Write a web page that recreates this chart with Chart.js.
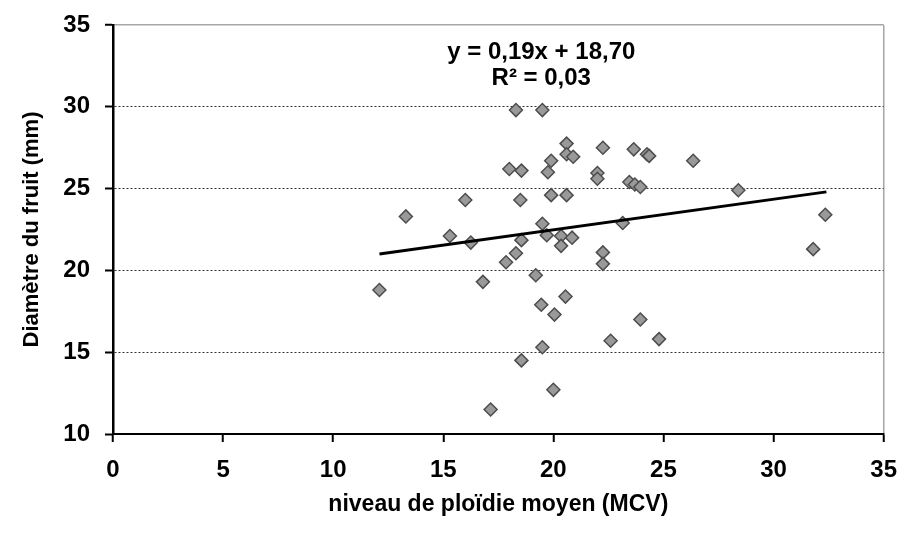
<!DOCTYPE html>
<html lang="fr">
<head>
<meta charset="utf-8">
<title>Diamètre du fruit vs niveau de ploïdie</title>
<script src="https://cdn.jsdelivr.net/npm/chart.js@4"></script>
<style>
    html, body { margin: 0; padding: 0; background: #fff; }
    #wrap { width: 911px; height: 533px; }
</style>
</head>
<body>
<div id="wrap"><canvas id="grafico"></canvas></div>
<script>
// valeurs
const ploidie = [12.1, 13.3, 15.3, 16.0, 16.25, 16.8, 17.15, 17.85, 18.0, 18.3, 18.3, 18.55, 18.5, 18.55, 18.55,
    19.2, 19.45, 19.5, 19.5, 19.5, 19.7, 19.75, 19.9, 19.9, 20.0, 20.05, 20.35, 20.35, 20.55, 20.6, 20.6, 20.9,
    20.6, 20.85, 22.0, 22.0, 22.25, 22.25, 22.25, 22.6, 23.15, 23.45, 23.65, 23.7, 23.95, 23.95, 24.25, 24.35,
    24.8, 26.35, 28.4, 31.8, 32.35];
const diametre = [18.8, 23.3, 22.1, 24.3, 21.7, 19.3, 11.5, 20.5, 26.2, 29.8, 21.05, 26.1, 24.3, 21.85, 14.5,
    19.7, 17.9, 29.8, 22.85, 15.3, 22.15, 26.0, 26.7, 24.6, 12.7, 17.3, 22.1, 21.5, 18.4, 27.75, 27.1, 26.95,
    24.6, 22.0, 25.95, 25.6, 27.5, 21.1, 20.4, 15.7, 22.9, 25.4, 27.4, 25.25, 25.1, 17.0, 27.1, 27.0,
    15.8, 26.7, 24.9, 21.3, 23.4];

// droite de tendance (extrémités lues)
const tendanceX = [12.1, 32.4];
const tendanceY = [21.0, 24.8];

const xTicks = [0, 5, 10, 15, 20, 25, 30, 35];
const yTicks = [10, 15, 20, 25, 30, 35];

const equation = ["y = 0,19x + 18,70", "R² = 0,03"];
const equationX = 19.45;
const equationY = [33.3, 31.75];

let chart;

document.addEventListener("DOMContentLoaded", function () {
    disegna();
});

// texte de l'équation, placé avec les échelles
const equationPlugin = {
    id: "equation",
    afterDatasetsDraw(c) {
        const ctx = c.ctx;
        const px = c.scales.x.getPixelForValue(equationX);
        ctx.save();
        ctx.font = "bold 24px 'Liberation Sans', Arial, sans-serif";
        ctx.fillStyle = "#000";
        ctx.textAlign = "center";
        ctx.textBaseline = "middle";
        for (let i = 0; i < equation.length; i++) {
            ctx.fillText(equation[i], px, c.scales.y.getPixelForValue(equationY[i]));
        }
        ctx.restore();
    }
};

function disegna() {
    Chart.defaults.font.family = "'Liberation Sans', Arial, sans-serif";
    Chart.defaults.font.weight = "bold";
    Chart.defaults.color = "#000";

    const punti = ploidie.map((x, i) => ({ x: x, y: diametre[i] }));
    const tendance = tendanceX.map((x, i) => ({ x: x, y: tendanceY[i] }));

    const ctx = document.getElementById("grafico").getContext("2d");
    if (chart) chart.destroy();

    chart = new Chart(ctx, {
        type: "scatter",
        data: {
            datasets: [{
                label: "tendance",
                data: tendance,
                showLine: true,
                borderColor: "#000",
                borderWidth: 3,
                pointRadius: 0,
                order: 0
            }, {
                label: "fruits",
                data: punti,
                pointStyle: "rectRot",
                pointRadius: 6.5,
                pointBackgroundColor: "#999999",
                pointBorderColor: "#4d4d4d",
                pointBorderWidth: 1.5,
                order: 1
            }]
        },
        options: {
            responsive: true,
            maintainAspectRatio: false,
            animation: false,
            layout: { padding: { top: 25, right: 27, left: 0, bottom: 0 } },
            plugins: {
                legend: { display: false },
                tooltip: { enabled: false }
            },
            scales: {
                x: {
                    type: "linear",
                    min: xTicks[0],
                    max: xTicks[xTicks.length - 1],
                    afterBuildTicks: s => { s.ticks = xTicks.map(v => ({ value: v })); },
                    afterFit: s => { s.height = 99; },
                    ticks: { font: { size: 24 }, padding: 14, maxRotation: 0 },
                    grid: {
                        color: c => c.tick && c.tick.value === 35 ? "#a6a6a6" : "rgba(0,0,0,0)",
                        lineWidth: 1.5,
                        drawTicks: true,
                        tickLength: 8,
                        tickColor: "#000",
                        tickWidth: 2
                    },
                    border: { color: "#000", width: 2 },
                    title: {
                        display: true,
                        text: "niveau de ploïdie moyen (MCV)",
                        font: { size: 23 },
                        padding: { top: 0, bottom: 15 }
                    }
                },
                y: {
                    type: "linear",
                    min: yTicks[0],
                    max: yTicks[yTicks.length - 1],
                    afterBuildTicks: s => { s.ticks = yTicks.map(v => ({ value: v })); },
                    afterFit: s => { s.width = 113; },
                    ticks: { font: { size: 24, lineHeight: 0.8 }, padding: 15 },
                    grid: {
                        color: c => {
                            if (!c.tick) return "rgba(0,0,0,0)";
                            if (c.tick.value === 35) return "#a6a6a6";
                            if (c.tick.value === 10) return "rgba(0,0,0,0)";
                            return "#333";
                        },
                        lineWidth: c => c.tick && c.tick.value === 35 ? 1.5 : 1,
                        drawTicks: true,
                        tickLength: 8,
                        tickColor: "#000",
                        tickWidth: 2,
                        tickBorderDash: []
                    },
                    border: {
                        color: "#000",
                        width: 2.5,
                        dash: c => c.tick && c.tick.value === 35 ? [] : [2, 2]
                    },
                    title: {
                        display: true,
                        text: "Diamètre du fruit (mm)",
                        font: { size: 22 },
                        padding: { top: 19, bottom: 0 }
                    }
                }
            }
        },
        plugins: [equationPlugin]
    });
}
</script>
</body>
</html>
